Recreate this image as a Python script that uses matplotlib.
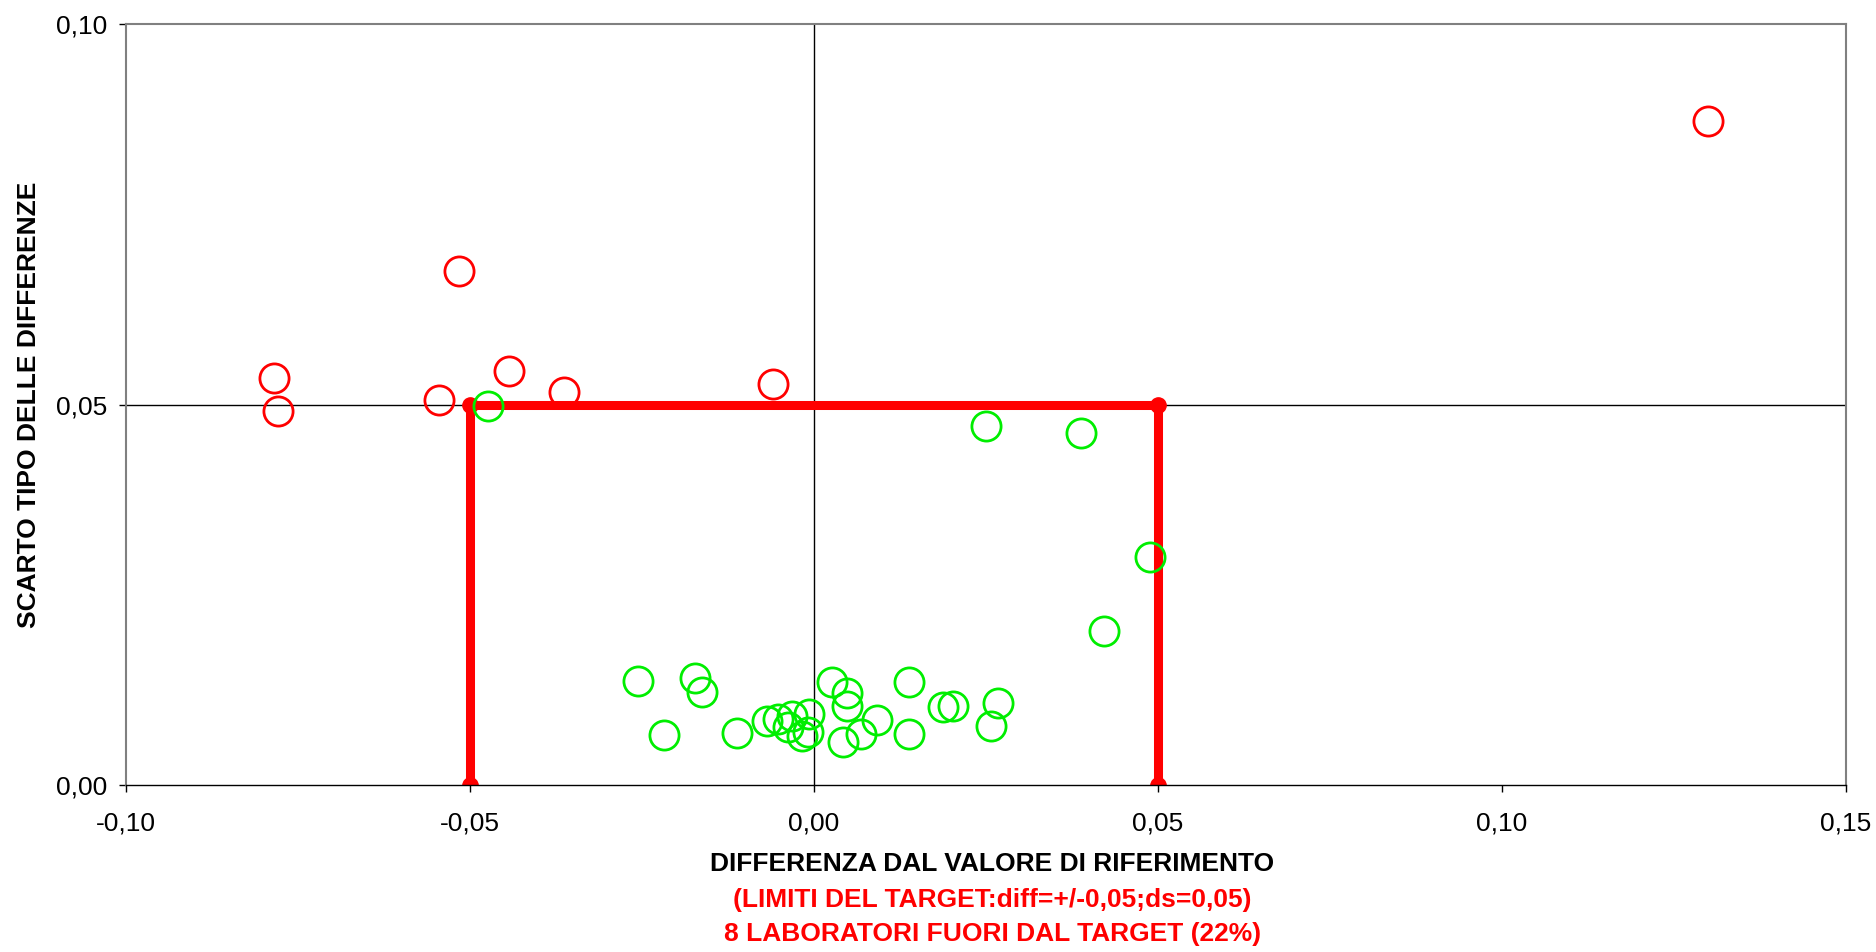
import numpy as np
import matplotlib.pyplot as plt

plt.rcParams['font.family'] = ['Liberation Sans', 'DejaVu Sans']

# laboratori dentro il target (verde)
diff_ok = [-0.0473, 0.0250, 0.0389, 0.0489, 0.0421,
           -0.0256, -0.0172, -0.0162, -0.0217, -0.0112, -0.0068, -0.0052, -0.0032,
           -0.0007, -0.0037, -0.0008, -0.0017, 0.0027, 0.0048, 0.0048, 0.0043,
           0.0068, 0.0092, 0.0138, 0.0138, 0.0188, 0.0203, 0.0268, 0.0258]
ds_ok = [0.0498, 0.0472, 0.0462, 0.0299, 0.0203,
         0.0137, 0.0141, 0.0122, 0.0066, 0.0069, 0.0084, 0.0087, 0.0091,
         0.0093, 0.0076, 0.0070, 0.0065, 0.0136, 0.0121, 0.0104, 0.0056,
         0.0067, 0.0086, 0.0135, 0.0067, 0.0103, 0.0104, 0.0108, 0.0077]

# laboratori fuori dal target (rosso)
diff_ko = [0.130, -0.0515, -0.0784, -0.0779, -0.0544, -0.0443, -0.0363, -0.0059]
ds_ko = [0.0873, 0.0675, 0.0535, 0.0491, 0.0506, 0.0544, 0.0516, 0.0527]

# limiti del target
target_x = [-0.05, -0.05, 0.05, 0.05]
target_y = [0.0, 0.05, 0.05, 0.0]

xticks = [-0.10, -0.05, 0.0, 0.05, 0.10, 0.15]
xlabels = ['-0,10', '-0,05', '0,00', '0,05', '0,10', '0,15']
yticks = [0.0, 0.05, 0.10]
ylabels = ['0,00', '0,05', '0,10']

fig = plt.figure(figsize=(18.76, 9.52), dpi=100)
ax = fig.add_axes([0.067, 0.1754, 0.917, 0.7994])

ax.axhline(0.05, color='black', lw=1, zorder=1)
ax.axvline(0.0, color='black', lw=1, zorder=1)

ax.plot(target_x, target_y, color='#ff0000', lw=6.5, marker='o', ms=11,
        solid_capstyle='butt', zorder=2)

ax.plot(diff_ok, ds_ok, 'o', ms=21, mfc='none', mec='#00ee00', mew=2, zorder=3)
ax.plot(diff_ko, ds_ko, 'o', ms=21, mfc='none', mec='#ff0000', mew=2, zorder=3)

ax.set_xlim(-0.10, 0.15)
ax.set_ylim(0.0, 0.10)
ax.set_xticks(xticks)
ax.set_xticklabels(xlabels)
ax.set_yticks(yticks)
ax.set_yticklabels(ylabels)
ax.tick_params(direction='out', length=5, width=1, labelsize=19, colors='black')
ax.tick_params(axis='x', pad=14)
ax.tick_params(axis='y', pad=8)

for s in ['left', 'top', 'right']:
    ax.spines[s].set_color('#808080')
    ax.spines[s].set_linewidth(1.5)
ax.spines['bottom'].set_color('black')
ax.spines['bottom'].set_linewidth(1)

fig.text(0.0155, 1 - 405 / 952, 'SCARTO TIPO DELLE DIFFERENZE', rotation=90, ha='center',
         va='center', fontsize=19, fontweight='bold')
fig.text(0.529, 1 - 864 / 952, 'DIFFERENZA DAL VALORE DI RIFERIMENTO', ha='center',
         va='center', fontsize=19, fontweight='bold')
fig.text(0.529, 1 - 900 / 952, '(LIMITI DEL TARGET:diff=+/-0,05;ds=0,05)', ha='center',
         va='center', fontsize=19, fontweight='bold', color='#ff0000')
fig.text(0.529, 1 - 934 / 952, '8 LABORATORI FUORI DAL TARGET (22%)', ha='center',
         va='center', fontsize=19, fontweight='bold', color='#ff0000')

fig.savefig('out.png', dpi=100)
